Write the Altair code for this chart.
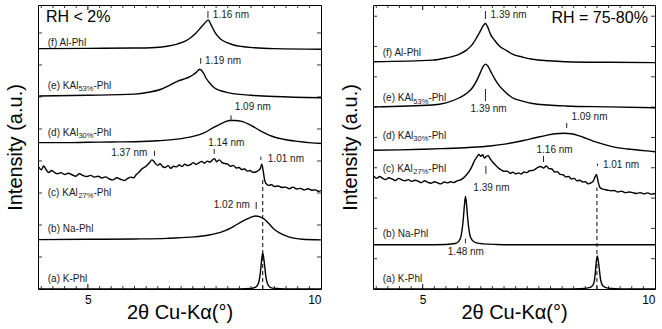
import altair as alt
import pandas as pd

FONT = "Liberation Sans"
X_DOMAIN = [3.93, 10.0]
Y_DOMAIN = [0, 9.37]
W_L, W_R, H = 283, 282, 284

# ---------------- left panel: RH < 2% ----------------
dry_a_x = [3.95, 8.0, 8.5, 8.6, 8.66, 8.7, 8.73, 8.75, 8.78, 8.82, 8.87, 8.95, 9.5, 10.0]
dry_a_y = [0, 0, 0.02, 0.06, 0.2, 0.55, 1.0, 1.19, 0.92, 0.38, 0.12, 0.03, 0, 0]

dry_b_x = [3.95, 5.0, 6.0, 6.7, 7.2, 7.6, 7.9, 8.13, 8.3, 8.43, 8.53, 8.6, 8.68, 8.78, 8.88, 8.99, 9.1, 9.29, 9.45, 9.6, 10.0]
dry_b_y = [1.63, 1.64, 1.65, 1.67, 1.71, 1.78, 1.9, 2.07, 2.22, 2.32, 2.39, 2.41, 2.39, 2.31, 2.16, 1.98, 1.86, 1.73, 1.67, 1.64, 1.62]

dry_c_x = [3.95, 4.00, 4.05, 4.10, 4.16, 4.22, 4.28, 4.35, 4.42, 4.50, 4.58, 4.66, 4.74, 4.82, 4.90, 4.98,
           5.06, 5.14, 5.22, 5.30, 5.38, 5.46, 5.54, 5.62, 5.70, 5.78, 5.85, 5.92, 5.98, 6.04, 6.10, 6.16,
           6.22, 6.28, 6.33, 6.37, 6.41, 6.45, 6.50, 6.55, 6.60, 6.66, 6.72, 6.78, 6.84, 6.90, 6.96, 7.02,
           7.08, 7.14, 7.20, 7.26, 7.32, 7.38, 7.44, 7.50, 7.56, 7.62, 7.68, 7.72, 7.76, 7.82, 7.88, 7.94,
           8.00, 8.06, 8.12, 8.18, 8.24, 8.30, 8.36, 8.42, 8.48, 8.54, 8.60, 8.65, 8.70, 8.73, 8.76, 8.79,
           8.82, 8.88, 8.94, 9.00, 9.08, 9.16, 9.24, 9.32, 9.40, 9.48, 9.56, 9.64, 9.72, 9.80, 9.88, 9.95, 10.0]
dry_c_y = [4.02, 3.93, 4.06, 3.95, 3.84, 3.91, 3.85, 3.80, 3.84, 3.78, 3.82, 3.77, 3.72, 3.80, 3.74, 3.71,
           3.75, 3.69, 3.72, 3.66, 3.70, 3.63, 3.60, 3.67, 3.62, 3.58, 3.64, 3.69, 3.67, 3.78, 3.86, 3.97,
           4.02, 4.10, 4.18, 4.26, 4.22, 4.14, 4.08, 4.13, 4.04, 4.01, 4.07, 3.98, 4.05, 4.03, 4.09, 4.04,
           4.12, 4.07, 4.10, 4.17, 4.11, 4.16, 4.21, 4.15, 4.22, 4.19, 4.27, 4.30, 4.20, 4.26, 4.17, 4.14,
           4.12, 4.05, 4.08, 3.99, 4.01, 3.94, 3.96, 3.89, 3.91, 3.85, 3.86, 3.90, 3.98, 4.12, 3.90, 3.60,
           3.48, 3.42, 3.44, 3.38, 3.40, 3.35, 3.36, 3.31, 3.36, 3.30, 3.32, 3.27, 3.31, 3.26, 3.27, 3.22, 3.25]

dry_d_x = [3.95, 4.5, 5.0, 5.5, 6.0, 6.5, 7.0, 7.3, 7.5, 7.7, 7.85, 7.95, 8.04, 8.15, 8.3, 8.5, 8.7, 8.95, 9.2, 9.5, 9.8, 10.0]
dry_d_y = [4.83, 4.83, 4.84, 4.85, 4.86, 4.89, 4.96, 5.05, 5.16, 5.33, 5.45, 5.52, 5.56, 5.56, 5.53, 5.40, 5.22, 5.04, 4.94, 4.87, 4.82, 4.80]

dry_e_x = [3.95, 5.0, 6.0, 6.3, 6.57, 6.75, 6.93, 7.05, 7.14, 7.25, 7.32, 7.40, 7.47, 7.53, 7.62, 7.71, 7.85, 8.0, 8.25, 8.5, 9.0, 10.0]
dry_e_y = [6.37, 6.39, 6.43, 6.49, 6.59, 6.72, 6.86, 6.92, 6.97, 7.06, 7.14, 7.25, 7.15, 6.97, 6.78, 6.64, 6.54, 6.48, 6.42, 6.39, 6.35, 6.31]

dry_f_x = [3.95, 5.0, 6.0, 6.35, 6.7, 6.93, 7.1, 7.21, 7.32, 7.42, 7.5, 7.58, 7.64, 7.71, 7.78, 7.85, 8.0, 8.13, 8.3, 8.57, 9.0, 10.0]
dry_f_y = [7.93, 7.94, 7.95, 7.96, 8.01, 8.09, 8.19, 8.30, 8.45, 8.62, 8.76, 8.88, 8.72, 8.51, 8.35, 8.24, 8.12, 8.05, 8.00, 7.96, 7.93, 7.91]

# ---------------- right panel: RH = 75-80% ----------------
wet_a_x = [3.95, 8.0, 8.5, 8.62, 8.68, 8.71, 8.74, 8.76, 8.79, 8.83, 8.88, 8.98, 9.5, 10.0]
wet_a_y = [0, 0, 0.02, 0.06, 0.18, 0.45, 0.95, 1.09, 0.8, 0.3, 0.1, 0.03, 0, 0]

wet_b_x = [3.95, 5.0, 5.5, 5.7, 5.78, 5.83, 5.87, 5.9, 5.92, 5.94, 5.97, 6.01, 6.06, 6.14, 6.3, 6.6, 7.0, 8.0, 10.0]
wet_b_y = [1.46, 1.46, 1.47, 1.50, 1.58, 1.78, 2.25, 2.8, 3.05, 2.85, 2.3, 1.82, 1.62, 1.53, 1.49, 1.47, 1.46, 1.46, 1.46]

wet_c_x = [3.95, 4.01, 4.07, 4.13, 4.20, 4.27, 4.34, 4.41, 4.48, 4.55, 4.62, 4.69, 4.76, 4.83, 4.90, 4.97,
           5.04, 5.11, 5.18, 5.25, 5.32, 5.39, 5.46, 5.53, 5.60, 5.67, 5.74, 5.80, 5.86, 5.92, 5.97, 6.02,
           6.07, 6.12, 6.17, 6.21, 6.25, 6.29, 6.33, 6.37, 6.41, 6.45, 6.49, 6.54, 6.59, 6.64, 6.70, 6.76,
           6.82, 6.88, 6.94, 7.00, 7.06, 7.12, 7.18, 7.24, 7.30, 7.36, 7.42, 7.48, 7.54, 7.60, 7.66, 7.72,
           7.78, 7.84, 7.90, 7.96, 8.02, 8.08, 8.14, 8.20, 8.26, 8.32, 8.38, 8.44, 8.50, 8.56, 8.62, 8.67,
           8.71, 8.74, 8.77, 8.81, 8.86, 8.92, 8.98, 9.05, 9.12, 9.20, 9.28, 9.36, 9.44, 9.52, 9.60, 9.68,
           9.76, 9.84, 9.92, 10.0]
wet_c_y = [3.72, 3.65, 3.71, 3.66, 3.61, 3.67, 3.63, 3.58, 3.65, 3.60, 3.57, 3.61, 3.55, 3.59, 3.56, 3.51,
           3.57, 3.52, 3.49, 3.54, 3.50, 3.47, 3.53, 3.50, 3.54, 3.51, 3.57, 3.59, 3.64, 3.73, 3.82, 3.93,
           4.08, 4.25, 4.36, 4.44, 4.38, 4.43, 4.32, 4.38, 4.40, 4.30, 4.22, 4.13, 4.05, 3.98, 3.92, 3.88,
           3.89, 3.82, 3.85, 3.80, 3.83, 3.79, 3.86, 3.84, 3.90, 3.91, 3.95, 4.01, 4.04, 3.99, 4.06, 3.97,
           3.96, 3.86, 3.87, 3.78, 3.77, 3.70, 3.71, 3.63, 3.65, 3.57, 3.59, 3.53, 3.54, 3.47, 3.50, 3.56,
           3.70, 3.78, 3.58, 3.36, 3.30, 3.28, 3.26, 3.24, 3.25, 3.20, 3.23, 3.18, 3.20, 3.18, 3.15, 3.18,
           3.14, 3.17, 3.13, 3.15]

wet_d_x = [3.95, 4.5, 5.0, 5.38, 6.0, 6.45, 6.8, 7.17, 7.45, 7.66, 7.85, 8.03, 8.2, 8.35, 8.5, 8.67, 8.9, 9.1, 9.4, 9.67, 10.0]
wet_d_y = [4.58, 4.59, 4.61, 4.63, 4.67, 4.72, 4.79, 4.90, 5.00, 5.07, 5.12, 5.14, 5.12, 5.06, 4.98, 4.88, 4.77, 4.69, 4.62, 4.58, 4.53]

wet_e_x = [3.95, 5.21, 5.5, 5.79, 5.95, 6.07, 6.17, 6.24, 6.3, 6.35, 6.4, 6.46, 6.55, 6.65, 6.8, 6.93, 7.15, 7.36, 7.7, 8.07, 9.0, 10.0]
wet_e_y = [6.01, 6.07, 6.14, 6.31, 6.46, 6.64, 6.90, 7.14, 7.34, 7.42, 7.36, 7.19, 6.93, 6.70, 6.47, 6.31, 6.20, 6.12, 6.07, 6.04, 6.01, 5.98]

wet_f_x = [3.95, 5.21, 5.5, 5.79, 5.95, 6.07, 6.17, 6.24, 6.3, 6.35, 6.4, 6.46, 6.55, 6.65, 6.8, 6.93, 7.15, 7.36, 7.7, 8.07, 9.0, 10.0]
wet_f_y = [7.50, 7.55, 7.62, 7.75, 7.89, 8.07, 8.32, 8.51, 8.68, 8.76, 8.64, 8.40, 8.20, 8.02, 7.87, 7.75, 7.65, 7.58, 7.53, 7.50, 7.48, 7.47]

# ---------------- labels ----------------
label_x = 4.14
curve_main = ["(a) K-Phl", "(b) Na-Phl", "(c) KAl", "(d) KAl", "(e) KAl", "(f) Al-Phl"]
curve_sub = ["", "", "27%", "30%", "53%", ""]
curve_suffix = ["", "", "-Phl", "-Phl", "-Phl", ""]
dry_label_y = [0.33, 1.98, 3.17, 5.15, 6.70, 8.12]
wet_label_y = [0.33, 1.82, 3.96, 5.05, 6.30, 7.79]

dry_peak_text = ["1.16 nm", "1.19 nm", "1.09 nm", "1.14 nm", "1.37 nm", "1.01 nm", "1.02 nm"]
dry_peak_tx = [7.68, 7.51, 8.15, 7.58, 5.50, 8.86, 7.70]
dry_peak_ty = [9.04, 7.52, 6.00, 4.83, 4.48, 4.30, 2.76]
dry_tick_x = [7.575, 7.42, 8.07, 7.71, 6.43, 8.71, 8.61]
dry_tick_y1 = [8.94, 7.43, 5.55, 4.46, 4.39, 4.26, 2.64]
dry_tick_y2 = [9.17, 7.62, 5.73, 4.62, 4.56, 4.37, 2.87]

wet_peak_text = ["1.39 nm", "1.39 nm", "1.09 nm", "1.16 nm", "1.39 nm", "1.01 nm", "1.48 nm"]
wet_peak_tx = [6.46, 6.03, 8.20, 7.45, 6.09, 8.88, 5.54]
wet_peak_ty = [9.04, 5.94, 5.68, 4.58, 3.32, 4.09, 1.22]
wet_tick_x = [6.35, 6.35, 8.10, 7.60, 6.36, 8.76, 5.92]
wet_tick_y1 = [8.91, 6.20, 5.31, 4.19, 3.80, 4.06, 1.51]
wet_tick_y2 = [9.17, 6.60, 5.48, 4.39, 4.06, 4.14, 1.66]

dashed_x = 8.75
dry_dash_top = 3.6
wet_dash_top = 3.35

x_labels = [5, 10]
x_major = [5]
x_minor = [4.0, 4.25, 4.5, 4.75, 5.25, 5.5, 5.75, 6.0, 6.25, 6.5, 6.75, 7.0, 7.25, 7.5, 7.75,
           8.0, 8.25, 8.5, 8.75, 9.0, 9.25, 9.5, 9.75]
dry_y_ticks = [1.056, 2.112, 3.168, 4.224, 5.28, 6.336, 7.392, 8.448]
wet_y_ticks = [1, 2, 3, 4, 5, 6, 7, 8, 9]

TEXT_COLOR = "#1a1a1a"

AX = alt.Axis(values=x_labels, ticks=False, domain=False, grid=False,
              labelFontSize=12, labelFont=FONT, labelColor="black", labelPadding=5,
              title="2θ Cu-Kα(°)", titleFontSize=20, titleFont=FONT, titleFontWeight="normal",
              titleColor="black", titleY=23, titleBaseline="middle")
AY = alt.Axis(labels=False, ticks=False, domain=False, grid=False,
              title="Intensity (a.u.)", titleFontSize=20, titleFont=FONT, titleFontWeight="normal",
              titleColor="black", titleX=-23, titleBaseline="middle")


def curves_df(series):
    rows = []
    for name, xs, ys in series:
        assert len(xs) == len(ys), name
        for a, b in zip(xs, ys):
            rows.append({"curve": name, "theta": a, "intensity": b})
    return pd.DataFrame(rows)


def panel(series, width, y_ticks, label_y, ptext, ptx, pty, tx, ty1, ty2, dash_top, rh, rh_x, rh_y):
    xs = alt.Scale(domain=X_DOMAIN, nice=False, zero=False)
    ys = alt.Scale(domain=Y_DOMAIN, nice=False, zero=False)
    xq = lambda f: alt.X(f, type="quantitative", scale=xs, axis=AX)
    yq = lambda f: alt.Y(f, type="quantitative", scale=ys, axis=AY)

    lines = alt.Chart(curves_df(series)).mark_line(
        color="black", strokeWidth=1.4, interpolate="monotone"
    ).encode(x=xq("theta"), y=yq("intensity"), detail="curve:N")

    maj = pd.DataFrame({"v": x_major})
    mnr = pd.DataFrame({"v": x_minor})
    yt = pd.DataFrame({"v": y_ticks})
    ticks = [
        alt.Chart(maj).mark_rule(color="black", strokeWidth=1).encode(x=xq("v"), y=alt.value(H), y2=alt.value(H - 5)),
        alt.Chart(maj).mark_rule(color="black", strokeWidth=1).encode(x=xq("v"), y=alt.value(0), y2=alt.value(5)),
        alt.Chart(mnr).mark_rule(color="black", strokeWidth=0.8).encode(x=xq("v"), y=alt.value(H), y2=alt.value(H - 3)),
        alt.Chart(mnr).mark_rule(color="black", strokeWidth=0.8).encode(x=xq("v"), y=alt.value(0), y2=alt.value(3)),
        alt.Chart(yt).mark_rule(color="black", strokeWidth=0.8).encode(y=yq("v"), x=alt.value(0), x2=alt.value(4)),
        alt.Chart(yt).mark_rule(color="black", strokeWidth=0.8).encode(y=yq("v"), x=alt.value(width - 4), x2=alt.value(width)),
    ]

    dash = alt.Chart(pd.DataFrame({"x": [dashed_x], "y1": [0], "y2": [dash_top]})).mark_rule(
        color="black", strokeWidth=1, strokeDash=[4, 3]
    ).encode(x=xq("x"), y=yq("y1"), y2="y2:Q")

    lab = pd.DataFrame({"x": [label_x] * 6, "y": label_y, "main": curve_main,
                        "sub": curve_sub, "suffix": curve_suffix})
    sublab = lab[lab["sub"] != ""]
    labels = [
        alt.Chart(lab).mark_text(align="left", baseline="middle", fontSize=10, font=FONT, color=TEXT_COLOR
                                 ).encode(x=xq("x"), y=yq("y"), text="main:N"),
        alt.Chart(sublab).mark_text(align="left", baseline="middle", fontSize=7.5, font=FONT, color=TEXT_COLOR,
                                    dx=30.6, dy=3.5).encode(x=xq("x"), y=yq("y"), text="sub:N"),
        alt.Chart(sublab).mark_text(align="left", baseline="middle", fontSize=10, font=FONT, color=TEXT_COLOR,
                                    dx=45.6).encode(x=xq("x"), y=yq("y"), text="suffix:N"),
    ]

    pk = pd.DataFrame({"x": ptx, "y": pty, "t": ptext})
    pticks = pd.DataFrame({"x": tx, "y1": ty1, "y2": ty2})
    peaks = [
        alt.Chart(pk).mark_text(align="left", baseline="middle", fontSize=10, font=FONT, color=TEXT_COLOR
                                ).encode(x=xq("x"), y=yq("y"), text="t:N"),
        alt.Chart(pticks).mark_rule(color="#222", strokeWidth=1).encode(x=xq("x"), y=yq("y1"), y2="y2:Q"),
    ]

    rhl = alt.Chart(pd.DataFrame({"x": [rh_x], "y": [rh_y], "t": [rh]})).mark_text(
        align="left", baseline="middle", fontSize=16, font=FONT, color="black"
    ).encode(x=xq("x"), y=yq("y"), text="t:N")

    return alt.layer(lines, *ticks, dash, *labels, *peaks, rhl).properties(width=width, height=H)


left = panel(
    [("a", dry_a_x, dry_a_y), ("b", dry_b_x, dry_b_y), ("c", dry_c_x, dry_c_y),
     ("d", dry_d_x, dry_d_y), ("e", dry_e_x, dry_e_y), ("f", dry_f_x, dry_f_y)],
    W_L, dry_y_ticks, dry_label_y, dry_peak_text, dry_peak_tx, dry_peak_ty,
    dry_tick_x, dry_tick_y1, dry_tick_y2, dry_dash_top, "RH < 2%", 4.10, 8.98)

right = panel(
    [("a", wet_a_x, wet_a_y), ("b", wet_b_x, wet_b_y), ("c", wet_c_x, wet_c_y),
     ("d", wet_d_x, wet_d_y), ("e", wet_e_x, wet_e_y), ("f", wet_f_x, wet_f_y)],
    W_R, wet_y_ticks, wet_label_y, wet_peak_text, wet_peak_tx, wet_peak_ty,
    wet_tick_x, wet_tick_y1, wet_tick_y2, wet_dash_top, "RH = 75-80%", 7.77, 8.94)

chart = alt.hconcat(left, right, spacing=52, bounds="flush").properties(
    padding={"left": 4, "top": 4, "right": 0, "bottom": 0},
    background="white",
).configure_view(stroke="black", strokeWidth=1)

chart.save("out.html", embed_options={"renderer": "svg", "actions": False})
